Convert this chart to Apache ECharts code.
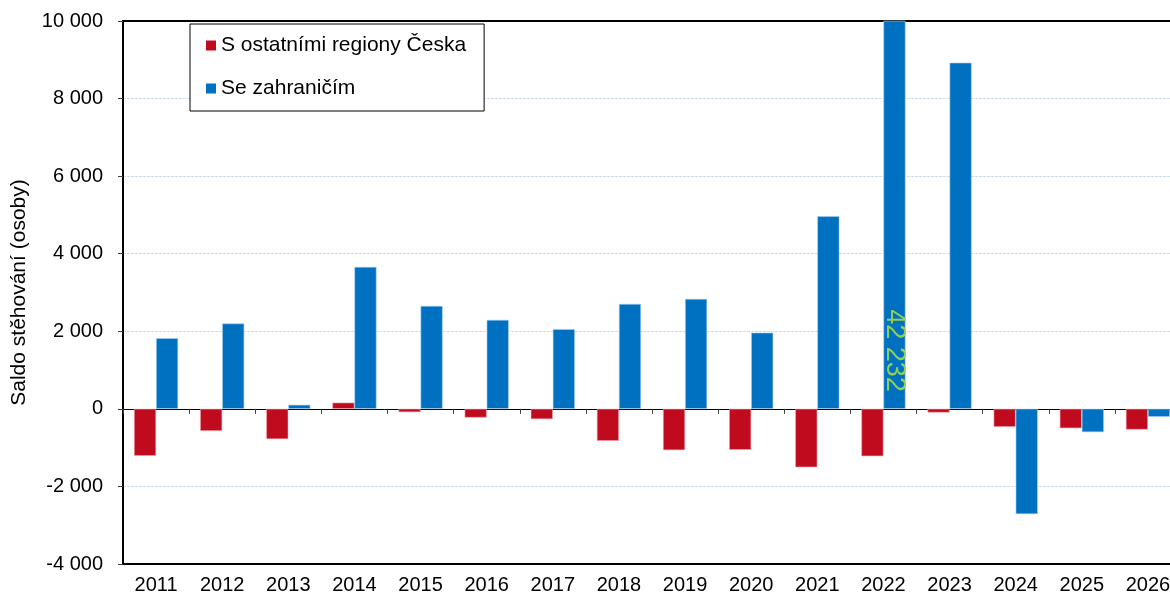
<!DOCTYPE html>
<html>
<head>
<meta charset="utf-8">
<script src="https://cdn.jsdelivr.net/npm/echarts@6/dist/echarts.min.js"></script>
<style>html,body{margin:0;padding:0;background:#fff;}#c{width:1170px;height:598px;}</style>
</head>
<body>
<div id="c"></div>
<script>
const years = ['2011','2012','2013','2014','2015','2016','2017','2018','2019','2020','2021','2022','2023','2024','2025','2026'];
const regionyName = 'S ostatními regiony Česka';
const zahraniciName = 'Se zahraničím';
const regiony = [-1210, -570, -780, 160, -85, -225, -265, -825, -1065, -1055, -1505, -1220, -95, -465, -500, -535];
const zahranici = [1822, 2200, 105, 3660, 2655, 2295, 2055, 2705, 2835, 1965, 4965, 42232, 8925, -2715, -600, -205];
const yTicks = { min: -4000, max: 10000, interval: 2000 };
const yAxisName = 'Saldo stěhování (osoby)';

function fmt(v) {
  const s = Math.abs(Math.round(v)).toString().replace(/\B(?=(\d{3})+(?!\d))/g, ' ');
  return (v < 0 ? '-' : '') + s;
}

const FONT = 'Liberation Sans, Arial, sans-serif';
const chart = echarts.init(document.getElementById('c'), null, { renderer: 'canvas' });

const zahrData = zahranici.map(function (v) {
  if (v > yTicks.max) {
    return {
      value: v,
      label: {
        show: true, position: 'insideBottom', distance: 17, rotate: -90,
        align: 'right', verticalAlign: 'middle',
        color: '#92D050', fontSize: 27, fontFamily: FONT,
        formatter: function (p) { return fmt(p.value); }
      }
    };
  }
  return v;
});

chart.setOption({
  animation: false,
  backgroundColor: '#fff',
  grid: { left: 123, top: 21, bottom: 34, right: -11, outerBoundsMode: 'none', containLabel: false,
          show: true, borderColor: '#000', borderWidth: 2, backgroundColor: 'transparent' },
  legend: {
    orient: 'vertical', left: 190, top: 24,
    padding: [11, 18, 12, 16], itemGap: 22,
    itemWidth: 10, itemHeight: 10,
    backgroundColor: '#fff', borderColor: '#000', borderWidth: 1,
    itemStyle: { borderWidth: 0 },
    textStyle: { fontSize: 21, color: '#000', fontFamily: FONT, padding: [0, 0, 0, 0] },
    data: [{ name: regionyName, icon: 'rect' }, { name: zahraniciName, icon: 'rect' }]
  },
  xAxis: [
    {
      type: 'category', data: years, position: 'bottom',
      axisLine: { onZero: false, lineStyle: { color: '#000', width: 2 } },
      axisTick: { show: false },
      axisLabel: { fontSize: 20, color: '#000', fontFamily: FONT, margin: 11 },
      splitLine: { show: false }
    },
    {
      type: 'category', data: years, position: 'bottom',
      axisLine: { onZero: true, lineStyle: { color: '#000', width: 1 } },
      axisTick: { show: true, length: 5, lineStyle: { color: '#404040', width: 1 } },
      axisLabel: { show: false },
      splitLine: { show: false }
    },
    {
      type: 'category', data: years, position: 'top',
      axisLine: { onZero: false, lineStyle: { color: '#000', width: 2 } },
      axisTick: { show: false },
      axisLabel: { show: false },
      splitLine: { show: false }
    }
  ],
  yAxis: {
    type: 'value', min: yTicks.min, max: yTicks.max, interval: yTicks.interval,
    name: yAxisName, nameLocation: 'middle', nameGap: 93, nameRotate: 90,
    nameTextStyle: { fontSize: 21, color: '#000', fontFamily: FONT },
    axisLine: { show: true, lineStyle: { color: '#000', width: 2 } },
    axisTick: { show: true, length: 5, lineStyle: { color: '#404040', width: 1 } },
    axisLabel: { fontSize: 20, color: '#000', fontFamily: FONT, margin: 20, formatter: fmt },
    splitLine: { show: true, lineStyle: { color: '#c9dcf2', type: [3, 1], width: 1 } }
  },
  series: [
    {
      name: regionyName, type: 'bar', xAxisIndex: 0, data: regiony,
      barGap: '0%', barCategoryGap: '33.3%',
      itemStyle: { color: '#C00A1E', borderColor: '#f0a8b0', borderWidth: 0.6 }
    },
    {
      name: zahraniciName, type: 'bar', xAxisIndex: 0, data: zahrData,
      barGap: '0%', barCategoryGap: '33.3%',
      itemStyle: { color: '#0070C0', borderColor: '#a8d0f0', borderWidth: 0.6 }
    }
  ]
});
</script>
</body>
</html>
